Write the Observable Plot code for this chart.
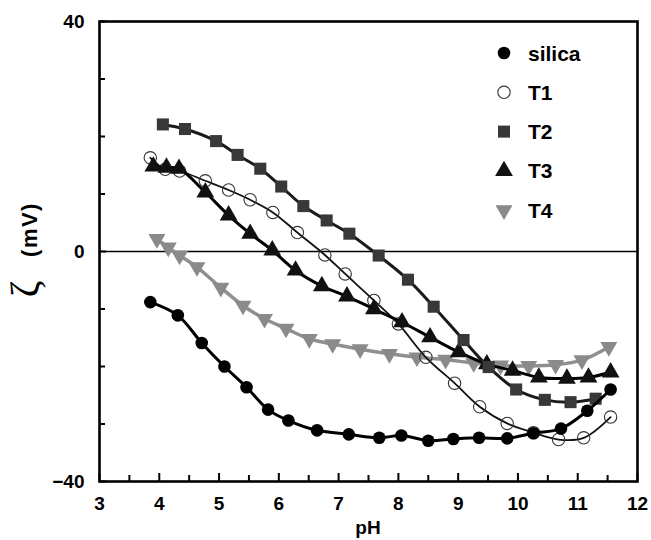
<!DOCTYPE html>
<html><head><meta charset="utf-8">
<script src="https://cdn.jsdelivr.net/npm/d3@7"></script>
<script src="https://cdn.jsdelivr.net/npm/@observablehq/plot@0.6"></script>
<style>
body{margin:0;background:#fff;}
#chart{position:relative;width:651px;height:540px;}
</style></head><body><div id="chart"></div>
<script>
// ---- data ----
const seriesNames = ["silica", "T1", "T2", "T3", "T4"];

const silicaPH   = [3.85, 4.31, 4.71, 5.09, 5.46, 5.82, 6.16, 6.64, 7.17, 7.68, 8.05, 8.50, 8.92, 9.35, 9.82, 10.26, 10.72, 11.16, 11.55];
const silicaZeta = [-8.8, -11.1, -15.9, -20.0, -23.6, -27.5, -29.4, -31.1, -31.8, -32.4, -32.0, -32.9, -32.6, -32.4, -32.5, -31.6, -30.8, -27.7, -24.0];

const t1PH   = [3.85, 4.10, 4.34, 4.77, 5.16, 5.52, 5.90, 6.31, 6.77, 7.11, 7.59, 8.00, 8.46, 8.94, 9.36, 9.82, 10.26, 10.68, 11.10, 11.55];
const t1Zeta = [16.3, 14.3, 14.0, 12.3, 10.7, 9.0, 6.8, 3.3, -0.6, -3.9, -8.5, -12.6, -18.4, -22.9, -27.0, -29.9, -31.5, -32.7, -32.4, -28.8];

const t2PH   = [4.06, 4.43, 4.95, 5.31, 5.69, 6.04, 6.41, 6.80, 7.18, 7.67, 8.16, 8.59, 9.09, 9.51, 9.97, 10.45, 10.88, 11.30];
const t2Zeta = [22.1, 21.3, 19.2, 16.8, 14.4, 11.3, 7.9, 5.4, 3.1, -0.7, -4.9, -9.6, -15.4, -20.1, -24.0, -25.8, -26.2, -25.6];

const t3PH   = [3.90, 4.12, 4.33, 4.77, 5.16, 5.52, 5.89, 6.28, 6.72, 7.14, 7.59, 8.06, 8.53, 9.01, 9.48, 9.91, 10.35, 10.82, 11.18, 11.55];
const t3Zeta = [14.8, 14.6, 14.4, 10.3, 6.3, 3.1, 0.2, -3.3, -6.0, -7.8, -10.0, -12.3, -14.9, -17.5, -19.6, -20.7, -21.9, -22.1, -21.9, -21.0];

const t4PH   = [3.96, 4.15, 4.34, 4.63, 5.03, 5.40, 5.76, 6.12, 6.51, 6.90, 7.36, 7.85, 8.31, 8.79, 9.26, 9.71, 10.18, 10.63, 11.07, 11.52];
const t4Zeta = [2.2, 0.7, -0.7, -2.7, -6.3, -9.4, -11.7, -13.4, -15.2, -16.1, -17.0, -17.8, -18.4, -18.8, -19.4, -19.8, -19.9, -19.7, -18.9, -16.6];

const xTickLabels = [3, 4, 5, 6, 7, 8, 9, 10, 11, 12];
const xMinorTicks = [3.5, 4.5, 5.5, 6.5, 7.5, 8.5, 9.5, 10.5, 11.5];
const yTickLabels = [-40, 0, 40];
const yMinorTicks = [-30, -20, -10, 10, 20, 30];

// ---- build tables ----
const toRows = (name, xs, ys) => xs.map((x, i) => ({series: name, pH: x, zeta: ys[i]}));
const rows = {
  silica: toRows("silica", silicaPH, silicaZeta),
  T1: toRows("T1", t1PH, t1Zeta),
  T2: toRows("T2", t2PH, t2Zeta),
  T3: toRows("T3", t3PH, t3Zeta),
  T4: toRows("T4", t4PH, t4Zeta)
};

// downward triangle symbol
const triangleDown = {
  draw(context, size) {
    const y = -Math.sqrt(size / (Math.sqrt(3) * 3));
    context.moveTo(0, -y * 2);
    context.lineTo(-Math.sqrt(3) * y, y);
    context.lineTo(Math.sqrt(3) * y, y);
    context.closePath();
  }
};

const styles = {
  silica: {symbol: "circle", r: 6.3, fill: "#000", stroke: "none", lineStroke: "#000", lineWidth: 3},
  T1: {symbol: "circle", r: 6.2, fill: "none", stroke: "#333", lineStroke: "#111", lineWidth: 1.8},
  T2: {symbol: "square", r: 6.8, fill: "#383838", stroke: "none", lineStroke: "#1a1a1a", lineWidth: 3},
  T3: {symbol: "triangle", r: 6.6, fill: "#111", stroke: "none", lineStroke: "#000", lineWidth: 3},
  T4: {symbol: triangleDown, r: 6.3, fill: "#8a8a8a", stroke: "none", lineStroke: "#8f8f8f", lineWidth: 3.5}
};

const W = 651, H = 540;
const mL = 99, mR = 14, mT = 21, mB = 59;
const innerW = W - mL - mR, innerH = H - mT - mB;
const FONT = "'Liberation Sans', Arial, Helvetica, sans-serif";

const drawOrder = ["T4", "T1", "T3", "T2", "silica"];
const seriesMarks = drawOrder.flatMap(name => {
  const s = styles[name];
  return [
    Plot.line(rows[name], {x: "pH", y: "zeta", stroke: s.lineStroke, strokeWidth: s.lineWidth, curve: "catmull-rom"}),
    Plot.dot(rows[name], {x: "pH", y: "zeta", symbol: s.symbol, r: s.r, fill: s.fill, stroke: s.stroke, strokeWidth: 1.1})
  ];
});

const plot = Plot.plot({
  width: W, height: H,
  marginLeft: mL, marginRight: mR, marginTop: mT, marginBottom: mB,
  style: {fontFamily: FONT, color: "#000", background: "#fff"},
  x: {domain: [3, 12], axis: null},
  y: {domain: [-40, 40], axis: null},
  marks: [
    Plot.ruleY([0], {stroke: "#000", strokeWidth: 1.3}),
    ...seriesMarks,
    Plot.tickX(xTickLabels, {x: d => d, insetTop: innerH - 8, stroke: "#000", strokeWidth: 2}),
    Plot.tickX(xMinorTicks, {x: d => d, insetTop: innerH - 6, stroke: "#000", strokeWidth: 2}),
    Plot.tickY(yTickLabels, {y: d => d, insetRight: innerW - 7, stroke: "#000", strokeWidth: 2}),
    Plot.tickY(yMinorTicks, {y: d => d, insetRight: innerW - 6, stroke: "#000", strokeWidth: 2}),
    Plot.frame({stroke: "#000", strokeWidth: 2.6}),
    Plot.axisX(xTickLabels, {tickSize: 0, tickPadding: 15, label: null}),
    Plot.axisY(yTickLabels, {tickSize: 0, tickPadding: 15, label: null})
  ]
});

const svg = d3.select(plot);
// style the tick labels (the only texts so far): bold, larger
svg.selectAll("text")
  .attr("font-size", 19).attr("font-weight", "bold").attr("font-family", FONT)
  .style("font-size", "19px").style("font-weight", "bold");

// x label
svg.append("text")
  .attr("x", mL + innerW / 2).attr("y", 534)
  .attr("text-anchor", "middle")
  .attr("font-family", FONT)
  .attr("font-size", 19).attr("font-weight", "bold")
  .text("pH");
// y label: zeta symbol and unit, rotated
svg.append("text")
  .attr("transform", "translate(38,289) rotate(-90)")
  .attr("text-anchor", "middle")
  .attr("font-family", "'Liberation Serif', 'DejaVu Serif', serif")
  .attr("font-size", 40)
  .text("ζ");
svg.append("text")
  .attr("transform", "translate(37,229.5) rotate(-90)")
  .attr("text-anchor", "middle")
  .attr("font-family", FONT)
  .attr("font-size", 22).attr("font-weight", "bold")
  .attr("letter-spacing", 1.5)
  .text("(mV)");

// legend
const legendX = 504, legendTextX = 528, legendY0 = 53, legendStep = 39.3;
const lg = svg.append("g");
seriesNames.forEach((name, i) => {
  const s = styles[name];
  const y = legendY0 + i * legendStep;
  const symType = s.symbol === "circle" ? d3.symbolCircle : s.symbol === "square" ? d3.symbolSquare : s.symbol === "triangle" ? d3.symbolTriangle : s.symbol;
  lg.append("path")
    .attr("transform", `translate(${legendX},${y})`)
    .attr("d", d3.symbol(symType, Math.PI * s.r * s.r)())
    .attr("fill", s.fill).attr("stroke", s.stroke === "none" ? null : s.stroke).attr("stroke-width", 1.1);
  lg.append("text")
    .attr("x", legendTextX).attr("y", y).attr("dy", "0.36em")
    .attr("text-anchor", "start")
    .attr("font-family", FONT)
    .attr("font-size", 21).attr("font-weight", "bold")
    .text(name);
});

document.getElementById("chart").appendChild(plot);
</script>
</body></html>
